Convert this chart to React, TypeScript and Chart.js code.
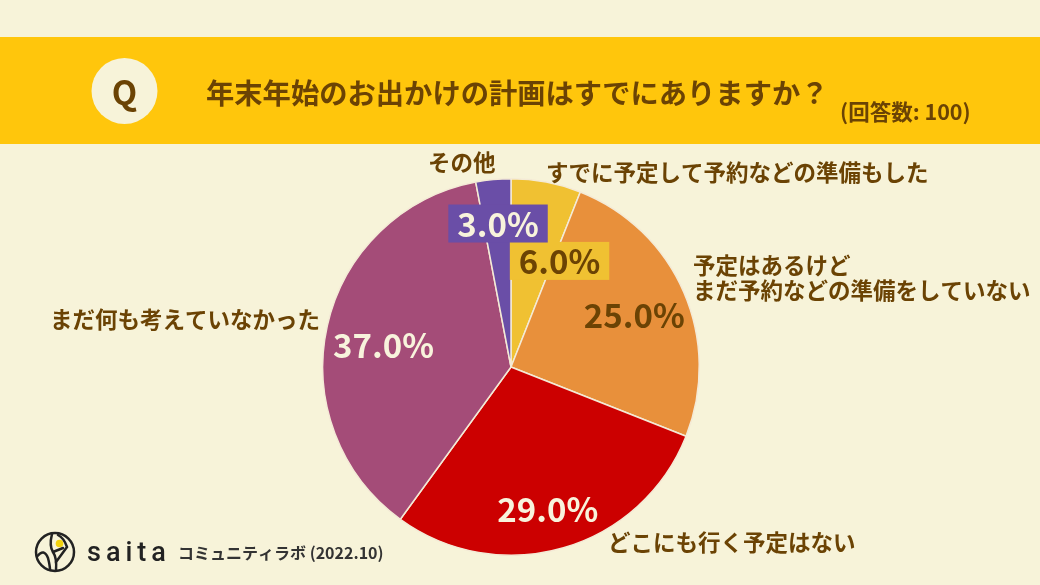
import React, { useEffect, useRef } from "react";
import { Chart, registerables } from "chart.js";

Chart.register(...registerables);

// ---- Data ----
const categories: string[][] = [
  ["すでに予定して予約などの準備もした"],
  ["予定はあるけど", "まだ予約などの準備をしていない"],
  ["どこにも行く予定はない"],
  ["まだ何も考えていなかった"],
  ["その他"],
];
const values: number[] = [6.0, 25.0, 29.0, 37.0, 3.0];
const sliceColors: string[] = ["#F0C132", "#E8903B", "#CC0000", "#A44C78", "#6A4EA7"];

const titleText = "年末年始のお出かけの計画はすでにありますか？";
const subtitleText = "(回答数: 100)";
const brandText = "saita";
const sourceText = "コミュニティラボ (2022.10)";

// ---- Style ----
const BG = "#F7F3D9";
const HEADER = "#FFC60C";
const BROWN = "#6B4304";
const CREAM = "#F8F3DC";
const JP = '"Noto Sans CJK JP", "Noto Sans", sans-serif';

// percentage label placement (fraction of radius, angle shift in degrees)
const pctRadius = [0.615, 0.71, 0.78, 0.687, 0.76];
const pctShift = [14, 0.6, 1.7, -2.8, 0.2];
const pctColor = [BROWN, BROWN, CREAM, CREAM, CREAM];
const pctBoxed = [true, false, false, false, true];

// category label anchors (left x, middle y of first line)
const catPos: [number, number][] = [
  [546, 172],
  [693, 265],
  [608, 542],
  [50, 319],
  [428, 162],
];

const bgPlugin = {
  id: "bgPlugin",
  beforeDraw(chart: any) {
    const ctx: CanvasRenderingContext2D = chart.ctx;
    ctx.save();
    ctx.fillStyle = BG;
    ctx.fillRect(0, 0, chart.width, chart.height);
    ctx.fillStyle = HEADER;
    ctx.fillRect(0, 37, chart.width, 107);
    // Q circle
    ctx.fillStyle = BG;
    ctx.beginPath();
    ctx.arc(124.5, 91, 33, 0, Math.PI * 2);
    ctx.fill();
    ctx.fillStyle = BROWN;
    ctx.textAlign = "center";
    ctx.textBaseline = "middle";
    ctx.font = `bold 33px ${JP}`;
    ctx.fillText("Q", 124.5, 92);
    // title
    ctx.textAlign = "left";
    ctx.font = `bold 28.3px ${JP}`;
    ctx.fillText(titleText, 206, 93);
    ctx.font = `bold 21.5px ${JP}`;
    ctx.fillText(subtitleText, 840, 112);

    // footer logo
    ctx.strokeStyle = "#222";
    ctx.lineWidth = 2.5;
    ctx.lineCap = "round";
    ctx.beginPath();
    ctx.arc(55, 552, 19, 0, Math.PI * 2);
    ctx.stroke();
    ctx.beginPath();
    ctx.moveTo(37.5, 556);
    ctx.quadraticCurveTo(44, 548, 48, 558);
    ctx.quadraticCurveTo(50, 566, 50, 570);
    ctx.stroke();
    ctx.beginPath();
    ctx.moveTo(52, 534);
    ctx.quadraticCurveTo(49, 546, 53, 552);
    ctx.quadraticCurveTo(57, 558, 56, 570);
    ctx.stroke();
    ctx.beginPath();
    ctx.moveTo(56, 562);
    ctx.lineTo(67, 547);
    ctx.quadraticCurveTo(64, 538, 58, 535);
    ctx.stroke();
    ctx.beginPath();
    ctx.moveTo(53, 552);
    ctx.lineTo(63, 548);
    ctx.stroke();
    ctx.fillStyle = "#F2D20E";
    ctx.beginPath();
    ctx.arc(59.5, 543.5, 3.8, 0, Math.PI * 2);
    ctx.fill();

    ctx.fillStyle = "#222";
    ctx.font = `500 27px Roboto, "Noto Sans", sans-serif`;
    ctx.textBaseline = "alphabetic";
    let bx = 87;
    for (const ch of brandText) {
      ctx.fillText(ch, bx, 561);
      bx += ctx.measureText(ch).width + 5;
    }
    ctx.fillStyle = "#333";
    ctx.textBaseline = "middle";
    ctx.font = `bold 16px ${JP}`;
    ctx.fillText(sourceText, 178, 553);
    ctx.restore();
  },
};

const labelPlugin = {
  id: "labelPlugin",
  afterDatasetsDraw(chart: any) {
    const ctx: CanvasRenderingContext2D = chart.ctx;
    const meta = chart.getDatasetMeta(0);
    ctx.save();
    ctx.textBaseline = "middle";
    // percentage labels
    meta.data.forEach((arc: any, i: number) => {
      const p = arc.getProps(["x", "y", "startAngle", "endAngle", "outerRadius"], true);
      const a = (p.startAngle + p.endAngle) / 2 + (pctShift[i] * Math.PI) / 180;
      const r = p.outerRadius * pctRadius[i];
      const px = p.x + Math.cos(a) * r;
      const py = p.y + Math.sin(a) * r;
      const text = values[i].toFixed(1) + "%";
      ctx.font = `bold 33px ${JP}`;
      const w = ctx.measureText(text).width;
      if (pctBoxed[i]) {
        ctx.fillStyle = sliceColors[i];
        ctx.fillRect(px - w / 2 - 9, py - 20, w + 18, 38);
      }
      ctx.fillStyle = pctColor[i];
      ctx.textAlign = "center";
      ctx.fillText(text, px, py);
    });
    // category labels
    ctx.textAlign = "left";
    ctx.fillStyle = BROWN;
    ctx.font = `bold 22.5px ${JP}`;
    categories.forEach((lines, i) => {
      const [x, y] = catPos[i];
      lines.forEach((ln, j) => ctx.fillText(ln, x, y + j * 25));
    });
    ctx.restore();
  },
};

export default function App() {
  const ref = useRef<HTMLCanvasElement | null>(null);
  useEffect(() => {
    if (!ref.current) return;
    const chart = new Chart(ref.current, {
      type: "pie",
      data: {
        labels: categories.map((l) => l.join("")),
        datasets: [
          {
            data: values,
            backgroundColor: sliceColors,
            borderColor: "#F4EAD6",
            borderWidth: 1.5,
          },
        ],
      },
      options: {
        responsive: false,
        animation: false,
        devicePixelRatio: 1,
        layout: { padding: { top: 178, bottom: 29, left: 300, right: 318 } },
        plugins: {
          legend: { display: false },
          tooltip: { enabled: false },
        },
      },
      plugins: [bgPlugin, labelPlugin],
    } as any);
    return () => chart.destroy();
  }, []);
  return (
    <div style={{ position: "fixed", left: 0, top: 0, width: 1040, height: 585, background: BG }}>
      <canvas ref={ref} width={1040} height={585} style={{ display: "block", width: 1040, height: 585 }} />
    </div>
  );
}
